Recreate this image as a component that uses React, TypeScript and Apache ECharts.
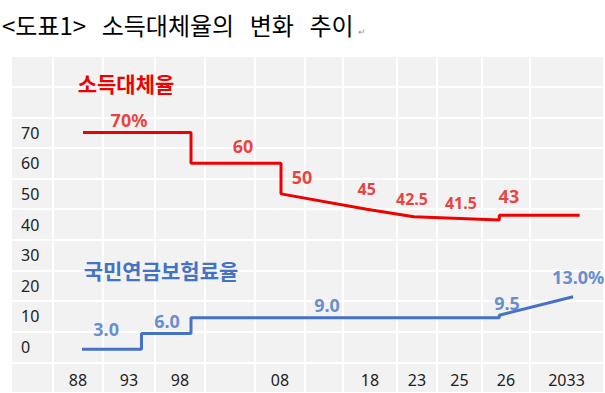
import React, { useEffect, useRef } from 'react';
import * as echarts from 'echarts';

// ---------- data ----------
const GAP = '\u00A0\u00A0\u2009';
const titleText = `<도표1>${GAP}소득대체율의${GAP}변화${GAP}추이`;
const xLabels = ['88', '93', '98', '', '08', '', '18', '23', '25', '26', '2033'];
const yTickLabels = [0, 10, 20, 30, 40, 50, 60, 70];
const replacementRateName = '소득대체율';
const replacementRate = [70, 60, 50, 45, 42.5, 41.5, 43];
const contributionRateName = '국민연금보험료율';
const contributionRate = [3.0, 6.0, 9.0, 9.5, 13.0];

// ---------- layout (column slots; slot 0 holds the y labels) ----------
const colWidths = [41, 50, 52, 50, 50, 50, 38, 54, 40, 45, 48, 73];
const bounds: number[] = [0];
colWidths.forEach((w, i) => bounds.push(bounds[i] + w));
const totalW = bounds[bounds.length - 1];
const toX = (s: number) => {
  const i = Math.min(Math.floor(s), colWidths.length - 1);
  return bounds[i] + (s - i) * colWidths[i];
};
const redSpan = [[1.6, 3.72], [3.72, 5.52], [5.52], [7.44], [8.42], [10.36], [10.36, 11.68]];
const redLabelAt = [[2.5, -13], [4.76, -17], [5.94, -17], [7.44, -20], [8.375, -18], [9.53, -17], [10.56, -19]];
const redLabelSize = [18, 18, 18, 16, 16, 16, 18];
const blueSpan = [[1.58, 2.74], [2.74, 3.72], [3.72, 10.36], [10.36], [11.59]];
const blueLabelAt = [[2.06, -20], [3.24, -13], [6.58, -13], [10.52, -12], [11.66, -20]];

const RED = '#ee0000';
const BLUE = '#4472c4';
const FONT = "'Noto Sans', 'Noto Sans CJK KR', sans-serif";
const KFONT = "'Noto Sans CJK KR', sans-serif";

export default function App() {
  const ref = useRef<HTMLDivElement>(null);
  useEffect(() => {
    if (!ref.current) return;
    const chart = echarts.init(ref.current, null, { renderer: 'svg' });

    const redPts: number[][] = [];
    replacementRate.forEach((v, i) => redSpan[i].forEach((s) => redPts.push([toX(s), v])));
    const bluePts: number[][] = [];
    contributionRate.forEach((v, i) => blueSpan[i].forEach((s) => bluePts.push([toX(s), v])));

    const redLabels = replacementRate.map((v, i) => ({
      name: i === 0 ? `${v}%` : String(v),
      value: [toX(redLabelAt[i][0]), v],
      label: { offset: [0, redLabelAt[i][1]], fontSize: redLabelSize[i] },
    }));
    const blueLabels = contributionRate.map((v, i) => ({
      name: i === contributionRate.length - 1 ? `${v.toFixed(1)}%` : v.toFixed(1),
      value: [toX(blueLabelAt[i][0]), v],
      label: { offset: [0, blueLabelAt[i][1]] },
    }));

    const centers = xLabels.map((_, i) => bounds[i + 1] + colWidths[i + 1] / 2);

    chart.setOption({
      animation: false,
      textStyle: { fontFamily: FONT },
      grid: {
        left: 12, top: 56, width: 591, height: 340,
        show: true, backgroundColor: '#f2f2f2', borderWidth: 0,
      },
      xAxis: {
        type: 'value', min: 0, max: totalW,
        axisLine: { show: false }, axisTick: { show: false }, splitLine: { show: false },
        axisLabel: {
          inside: true, margin: 5, fontSize: 16, color: '#222', fontFamily: FONT,
          customValues: centers,
          formatter: (v: number) => {
            const i = centers.findIndex((c) => Math.abs(c - v) < 0.01);
            return i >= 0 ? xLabels[i] : '';
          },
        },
      },
      yAxis: [
        {
          type: 'value', min: -15, max: 95, interval: 5,
          axisLine: { show: false }, axisTick: { show: false }, splitLine: { show: false },
          axisLabel: {
            inside: true, margin: 9, fontSize: 16, color: '#222', fontFamily: FONT,
            formatter: (v: number) => (yTickLabels.includes(v) ? String(v) : ''),
          },
        },
        {
          type: 'value', min: -15, max: 95, interval: 10,
          axisLine: { show: false }, axisTick: { show: false }, axisLabel: { show: false },
          splitLine: { show: true, lineStyle: { color: '#ffffff', width: 2 } },
        },
        { type: 'value', min: -5.3, max: 58.8, show: false },
      ],
      graphic: [
        {
          type: 'text', x: 2, y: 24, z: 10,
          style: { text: titleText, fontSize: 24, fontFamily: KFONT, fill: '#000', verticalAlign: 'middle' },
        },
        {
          type: 'text', x: 358, y: 32, z: 10,
          style: { text: '↵', fontSize: 9, fill: '#999', verticalAlign: 'middle' },
        },
        {
          type: 'text', x: 126, y: 83, z: 10,
          style: { text: replacementRateName, fontSize: 21, fontWeight: 'bold', fontFamily: KFONT, fill: RED, align: 'center', verticalAlign: 'middle' },
        },
        {
          type: 'text', x: 161, y: 270, z: 10,
          style: { text: contributionRateName, fontSize: 21, fontWeight: 'bold', fontFamily: KFONT, fill: BLUE, align: 'center', verticalAlign: 'middle' },
        },
      ],
      series: [
        {
          type: 'line', data: [], z: 1, silent: true,
          markLine: {
            silent: true, z: 1, symbol: ['none', 'none'], label: { show: false },
            lineStyle: { color: '#ffffff', width: 2, type: 'solid' },
            data: bounds.slice(1, bounds.length - 1).map((b) => ({ xAxis: b })),
          },
        },
        {
          name: replacementRateName, type: 'line', data: redPts, z: 3,
          symbol: 'none', lineStyle: { color: RED, width: 3 }, itemStyle: { color: RED },
        },
        {
          name: contributionRateName, type: 'line', data: bluePts, yAxisIndex: 2, z: 3,
          symbol: 'none', lineStyle: { color: BLUE, width: 3 }, itemStyle: { color: BLUE },
        },
        {
          type: 'scatter', data: redLabels, z: 5, symbolSize: 1, itemStyle: { color: 'transparent' },
          label: { show: true, position: 'inside', formatter: '{b}', color: '#e81010', fontWeight: 'bold', fontSize: 18, fontFamily: FONT },
        },
        {
          type: 'scatter', data: blueLabels, yAxisIndex: 2, z: 5, symbolSize: 1, itemStyle: { color: 'transparent' },
          label: { show: true, position: 'inside', formatter: '{b}', color: BLUE, fontWeight: 'bold', fontSize: 18, fontFamily: FONT },
        },
      ],
    });
    return () => chart.dispose();
  }, []);
  return <div ref={ref} style={{ position: 'absolute', left: 0, top: 0, width: 605, height: 393 }} />;
}
